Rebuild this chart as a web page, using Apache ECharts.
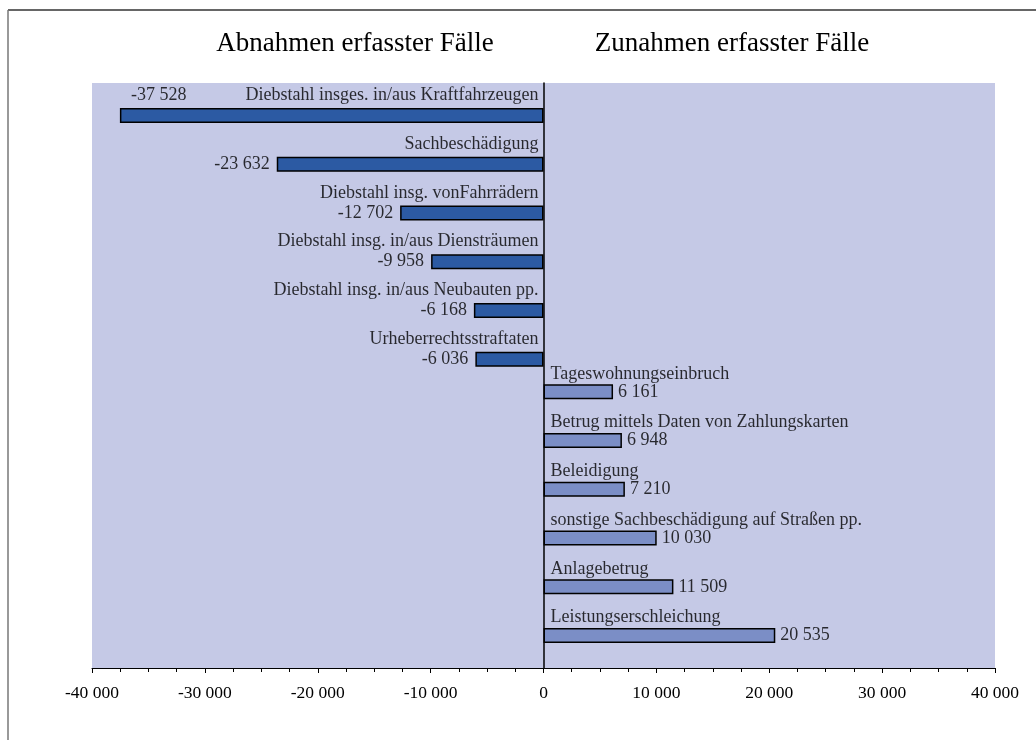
<!DOCTYPE html>
<html>
<head>
<meta charset="utf-8">
<script src="https://cdn.jsdelivr.net/npm/echarts@6/dist/echarts.min.js"></script>
<style>html,body{margin:0;padding:0;background:#fff}#c{width:1036px;height:740px}</style>
</head>
<body>
<div id="c"></div>
<script>
const categories = [
  'Diebstahl insges. in/aus Kraftfahrzeugen',
  'Sachbeschädigung',
  'Diebstahl insg. vonFahrrädern',
  'Diebstahl insg. in/aus Diensträumen',
  'Diebstahl insg. in/aus Neubauten pp.',
  'Urheberrechtsstraftaten',
  'Tageswohnungseinbruch',
  'Betrug mittels Daten von Zahlungskarten',
  'Beleidigung',
  'sonstige Sachbeschädigung auf Straßen pp.',
  'Anlagebetrug',
  'Leistungserschleichung'
];
const values = [-37528, -23632, -12702, -9958, -6168, -6036, 6161, 6948, 7210, 10030, 11509, 20535];
const headers = ['Abnahmen erfasster Fälle', 'Zunahmen erfasster Fälle'];
const xTicks = [-40000, -30000, -20000, -10000, 0, 10000, 20000, 30000, 40000];

const FONT = "'Liberation Serif','Times New Roman',serif";
function fmt(v) {
  const s = Math.abs(Math.round(v)).toString().replace(/\B(?=(\d{3})+(?!\d))/g, ' ');
  return (v < 0 ? '-' : '') + s;
}

const negData = values.map(v => v < 0 ? v : null);
const posData = values.map(v => v > 0 ? v : null);

const nameLabels = categories.map((c, i) => {
  const neg = values[i] < 0;
  return {
    value: [0, i],
    label: {
      show: true,
      formatter: c,
      position: neg ? 'left' : 'right',
      distance: neg ? 5 : 7,
      offset: [0, neg ? -12 : -26]
    }
  };
});
const valueLabels = values.map((v, i) => {
  const neg = v < 0;
  let lab;
  if (i === 0) {
    lab = { show: true, position: 'right', distance: 11, offset: [0, -12] };
  } else if (neg) {
    lab = { show: true, position: 'left', distance: 7, offset: [0, 8] };
  } else {
    lab = { show: true, position: 'right', distance: 5, offset: [0, -8] };
  }
  lab.formatter = fmt(v);
  return { value: [v, i], label: lab };
});

const chart = echarts.init(document.getElementById('c'), null, { renderer: 'canvas' });
chart.setOption({
  animation: false,
  textStyle: { fontFamily: FONT },
  grid: {
    left: 92, right: 41, top: 83, bottom: 72,
    show: true, backgroundColor: '#C5C9E6', borderWidth: 0
  },
  xAxis: {
    type: 'value', min: -40000, max: 40000, interval: 10000,
    splitLine: { show: false },
    axisLine: { show: true, onZero: false, lineStyle: { color: '#000', width: 1 } },
    axisTick: { show: true, length: 5, lineStyle: { color: '#000' } },
    minorTick: { show: true, splitNumber: 4, length: 4, lineStyle: { color: '#000' } },
    minorSplitLine: { show: false },
    axisLabel: {
      color: '#000', fontFamily: FONT, fontSize: 17.5, margin: 16,
      formatter: v => xTicks.indexOf(v) >= 0 ? fmt(v) : ''
    }
  },
  yAxis: {
    type: 'category', data: categories, inverse: true,
    axisLine: { show: true, onZero: true, lineStyle: { color: '#000', width: 1.5 } },
    axisTick: { show: false },
    axisLabel: { show: false },
    splitLine: { show: false }
  },
  series: [
    {
      name: 'Zunahmen', type: 'bar', data: posData,
      barWidth: 15, barGap: '7%',
      itemStyle: { color: '#7B8EC6', borderColor: '#000', borderWidth: 1.5 }
    },
    {
      name: 'Abnahmen', type: 'bar', data: negData,
      barWidth: 15, barGap: '7%',
      itemStyle: { color: '#2C5AA3', borderColor: '#000', borderWidth: 1.5 }
    },
    {
      type: 'scatter', data: nameLabels, symbolSize: 0, silent: true,
      label: { color: '#000', fontFamily: FONT, fontSize: 18 }
    },
    {
      type: 'scatter', data: valueLabels, symbolSize: 0, silent: true,
      label: { color: '#000', fontFamily: FONT, fontSize: 18 }
    }
  ],
  graphic: [
    { type: 'line', shape: { x1: 8, y1: 10, x2: 1036, y2: 10 }, style: { stroke: '#333', lineWidth: 1.5 } },
    { type: 'line', shape: { x1: 8, y1: 10, x2: 8, y2: 740 }, style: { stroke: '#777', lineWidth: 1.5 } },
    { type: 'text', x: 355, y: 44, style: { text: headers[0], font: '27px ' + FONT, fill: '#000', textAlign: 'center', textVerticalAlign: 'middle' } },
    { type: 'text', x: 732, y: 44, style: { text: headers[1], font: '27px ' + FONT, fill: '#000', textAlign: 'center', textVerticalAlign: 'middle' } }
  ]
});
</script>
</body>
</html>
